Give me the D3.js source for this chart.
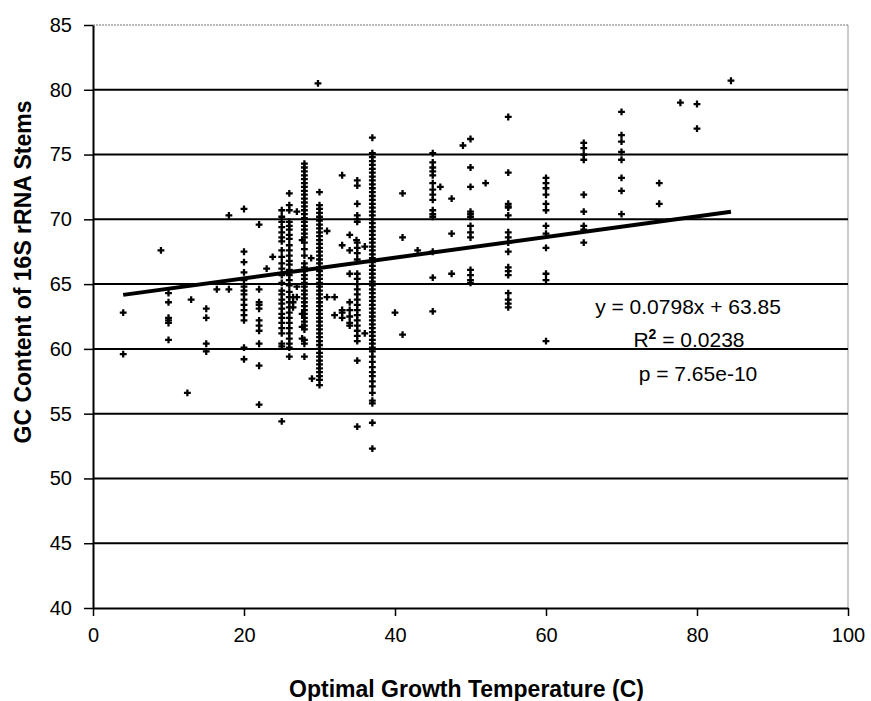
<!DOCTYPE html>
<html>
<head>
<meta charset="utf-8">
<script src="https://cdnjs.cloudflare.com/ajax/libs/d3/7.8.5/d3.min.js"></script>
<style>
    body { margin: 0; background: #fff; }
    svg { display: block; }
    .tick text { font-family: "Liberation Sans", Arial, sans-serif; font-size: 20px; fill: #000; }
</style>
</head>
<body>
<svg id="chart"></svg>
<script>
// optimal growth temperature (C) for each column of points
const tempC = [4, 9, 10, 12.5, 13, 15, 16.4, 18, 20, 22, 23, 23.8, 25, 26, 26.5, 27, 27.7, 28,
    28.9, 29, 29.8, 30, 31, 32, 33, 34, 34.9, 35, 36, 37, 40, 41, 43, 45, 46, 47.5, 49, 50,
    52, 55, 60, 65, 70, 75, 77.8, 80, 84.5];

// GC content (%) of 16S rRNA stems, one list per temperature above
const gcContent = [
    [62.8, 59.6],
    [67.6],
    [64.3, 63.6, 62.4, 62.2, 62.0, 60.7],
    [56.6],
    [63.8],
    [63.1, 62.4, 60.4, 59.8],
    [64.6],
    [64.6, 70.3],
    [70.8, 67.5, 66.7, 65.9, 65.3, 64.8, 64.5, 64.2, 63.8, 63.4, 63.0, 62.6, 62.2, 60.1, 59.2],
    [69.6, 64.6, 63.6, 63.4, 63.1, 62.2, 61.8, 61.4, 60.4, 58.7, 55.7],
    [66.2],
    [67.1],
    [70.7, 70.2, 69.8, 69.4, 69.0, 68.6, 68.3, 67.6, 67.1, 66.6, 66.2, 65.7, 65.1, 64.5, 64.2,
        63.8, 63.5, 63.1, 62.7, 62.4, 62.0, 61.6, 61.2, 60.4, 60.2, 54.4],
    [72.0, 71.1, 70.7, 69.8, 69.5, 69.2, 68.8, 68.5, 68.0, 67.6, 67.2, 66.8, 66.5, 66.1, 65.7,
        65.3, 64.9, 64.4, 64.0, 63.6, 63.2, 62.8, 62.4, 62.0, 61.6, 61.2, 60.8, 60.4, 60.1, 59.4],
    [64.0, 63.6, 63.2],
    [70.6, 64.8, 64.0],
    [68.4, 62.7, 61.7, 60.8],
    [74.3, 74.0, 73.7, 73.4, 73.1, 72.8, 72.5, 72.2, 71.9, 71.6, 71.3, 71.0, 70.7, 70.4, 70.1,
        69.8, 69.5, 69.2, 68.9, 68.6, 68.2, 67.7, 67.2, 66.6, 66.3, 66.0, 65.7, 65.4, 65.1, 64.8,
        64.5, 64.2, 63.9, 63.6, 63.3, 63.0, 62.7, 62.4, 62.1, 61.8, 61.5, 60.7, 60.4, 59.4],
    [67.0],
    [57.7],
    [80.5],
    [72.1, 71.1, 70.8, 70.5, 70.2, 69.9, 69.6, 69.3, 69.0, 68.7, 68.4, 68.1, 67.8, 67.5, 67.2,
        66.9, 66.6, 66.3, 66.0, 65.7, 65.4, 65.1, 64.8, 64.5, 64.2, 63.9, 63.6, 63.3, 63.0, 62.7,
        62.4, 62.1, 61.8, 61.5, 61.2, 60.9, 60.6, 60.3, 60.0, 59.7, 59.4, 59.1, 58.8, 58.5, 58.2,
        57.9, 57.6, 57.2],
    [69.1, 64.0],
    [64.0, 62.6],
    [73.4, 68.0, 63.0, 62.8, 62.4],
    [68.8, 67.6, 65.8, 63.6, 63.0, 62.5, 62.0, 61.8],
    [68.4],
    [73.0, 72.6, 71.2, 70.3, 70.0, 69.8, 68.2, 67.8, 67.4, 66.9, 65.8, 65.4, 65.0, 64.6, 64.2,
        63.8, 63.4, 63.0, 62.6, 62.2, 61.8, 61.4, 61.0, 60.6, 59.1, 54.0],
    [67.9, 61.2],
    [76.3, 75.1, 74.8, 74.5, 74.2, 73.9, 73.6, 73.3, 73.0, 72.7, 72.4, 72.1, 71.8, 71.5, 71.2,
        70.9, 70.6, 70.3, 70.0, 69.7, 69.4, 69.1, 68.8, 68.5, 68.2, 67.9, 67.6, 67.3, 67.0, 66.7,
        66.4, 66.1, 65.8, 65.5, 65.2, 64.9, 64.6, 64.3, 64.0, 63.7, 63.4, 63.1, 62.8, 62.5, 62.2,
        61.9, 61.6, 61.3, 61.0, 60.7, 60.4, 60.1, 59.8, 59.4, 59.0, 58.6, 58.2, 57.9, 57.5, 57.1,
        56.6, 56.0, 55.8, 54.3, 52.3],
    [62.8],
    [72.0, 68.6, 61.1],
    [67.6],
    [75.1, 74.4, 74.0, 73.7, 73.4, 72.8, 72.3, 71.9, 71.5, 70.7, 70.4, 70.2, 67.5, 65.5, 62.9],
    [72.5],
    [71.6, 68.9, 65.8],
    [75.7],
    [76.2, 74.0, 72.5, 70.6, 70.4, 70.2, 69.5, 69.0, 68.6, 66.1, 65.7, 65.3, 65.1],
    [72.8],
    [77.9, 73.6, 71.2, 71.0, 70.9, 70.3, 69.0, 68.6, 68.2, 67.5, 66.3, 66.0, 65.7, 64.3, 63.8,
        63.5, 63.2],
    [73.2, 72.8, 72.4, 71.9, 71.2, 70.7, 69.5, 68.9, 67.8, 65.8, 65.3, 60.6],
    [75.9, 75.5, 75.0, 74.6, 71.9, 70.6, 69.5, 69.2, 68.2],
    [78.3, 76.5, 76.0, 75.2, 74.6, 73.2, 72.2, 70.4],
    [72.8, 71.2],
    [79.0],
    [78.9, 77.0],
    [80.7]
];

// linear fit: y = 0.0798x + 63.85, drawn over the data range
const fitSlope = 0.0798;
const fitIntercept = 63.85;
const fitRange = [4, 84.5];

const xTicks = [0, 20, 40, 60, 80, 100];
const yTicks = [40, 45, 50, 55, 60, 65, 70, 75, 80, 85];
const gridLines = [45, 50, 55, 60, 65, 70, 75, 80];

const statLines = ["y = 0.0798x + 63.85", "R", "p = 7.65e-10"];

const points = tempC.flatMap((t, i) => gcContent[i].map(gc => ({ t: t, gc: gc })));

const svg = d3.select("#chart")
    .attr("width", 871)
    .attr("height", 701);

const plot = { left: 93, right: 848, top: 25, bottom: 608 };

const x = d3.scaleLinear().domain([0, 100]).range([plot.left, plot.right]);
const y = d3.scaleLinear().domain([40, 85]).range([plot.bottom, plot.top]);

// plot frame: grey dotted top, grey right
svg.append("line")
    .attr("x1", plot.left).attr("x2", plot.right)
    .attr("y1", y(85)).attr("y2", y(85))
    .attr("stroke", "#777")
    .attr("stroke-dasharray", "2,1");
svg.append("line")
    .attr("x1", plot.right).attr("x2", plot.right)
    .attr("y1", plot.top).attr("y2", plot.bottom)
    .attr("stroke", "#999");

// horizontal gridlines
svg.append("g")
    .selectAll("line")
    .data(gridLines)
    .enter()
        .append("line")
        .attr("x1", plot.left).attr("x2", plot.right)
        .attr("y1", d => y(d)).attr("y2", d => y(d))
        .attr("stroke", "#000")
        .attr("stroke-width", 2);

// y axis
let yAxis = d3.axisLeft(y)
    .tickValues(yTicks)
    .tickSize(9)
    .tickPadding(12)
    .tickSizeOuter(0);

svg.append("g")
    .attr("class", "yAxis")
    .attr("transform", `translate(${plot.left}, 0)`)
    .call(yAxis);

// x axis
let xAxis = d3.axisBottom(x)
    .tickValues(xTicks)
    .tickSize(8)
    .tickPadding(12)
    .tickSizeOuter(0);

svg.append("g")
    .attr("class", "xAxis")
    .attr("transform", `translate(0, ${plot.bottom})`)
    .call(xAxis);

svg.selectAll(".domain").attr("stroke", "#000").attr("stroke-width", 2);
svg.selectAll(".tick line").attr("stroke", "#000").attr("stroke-width", 1.5);

// data points
const marker = d3.symbol().type(d3.symbolCross).size(26);
svg.append("g")
    .selectAll("path")
    .data(points)
    .enter()
        .append("path")
        .attr("d", marker)
        .attr("transform", d => `translate(${x(d.t)}, ${y(d.gc)})`)
        .attr("fill", "#000");

// trend line
svg.append("line")
    .attr("x1", x(fitRange[0]))
    .attr("y1", y(fitSlope * fitRange[0] + fitIntercept))
    .attr("x2", x(fitRange[1]))
    .attr("y2", y(fitSlope * fitRange[1] + fitIntercept))
    .attr("stroke", "#000")
    .attr("stroke-width", 4);

// regression stats
const statFont = "\"Liberation Sans\", Arial, sans-serif";
svg.append("text")
    .attr("x", 688).attr("y", 314)
    .attr("text-anchor", "middle")
    .style("font-family", statFont).style("font-size", "21px")
    .text(statLines[0]);

let r2 = svg.append("text")
    .attr("x", 689).attr("y", 347)
    .attr("text-anchor", "middle")
    .style("font-family", statFont).style("font-size", "21px");
r2.append("tspan").text(statLines[1]);
r2.append("tspan").attr("dy", -8).style("font-size", "14px").style("font-weight", "bold").text("2");
r2.append("tspan").attr("dy", 8).text(" = 0.0238");

svg.append("text")
    .attr("x", 698).attr("y", 381)
    .attr("text-anchor", "middle")
    .style("font-family", statFont).style("font-size", "21px")
    .text(statLines[2]);

// axis titles
svg.append("text")
    .attr("x", (plot.left + plot.right) / 2 - 4)
    .attr("y", 697)
    .attr("text-anchor", "middle")
    .style("font-family", statFont).style("font-size", "23px").style("font-weight", "bold")
    .text("Optimal Growth Temperature (C)");

svg.append("text")
    .attr("transform", "translate(31, 272) rotate(-90)")
    .attr("text-anchor", "middle")
    .style("font-family", statFont).style("font-size", "23px").style("font-weight", "bold")
    .text("GC Content of 16S rRNA Stems");
</script>
</body>
</html>
